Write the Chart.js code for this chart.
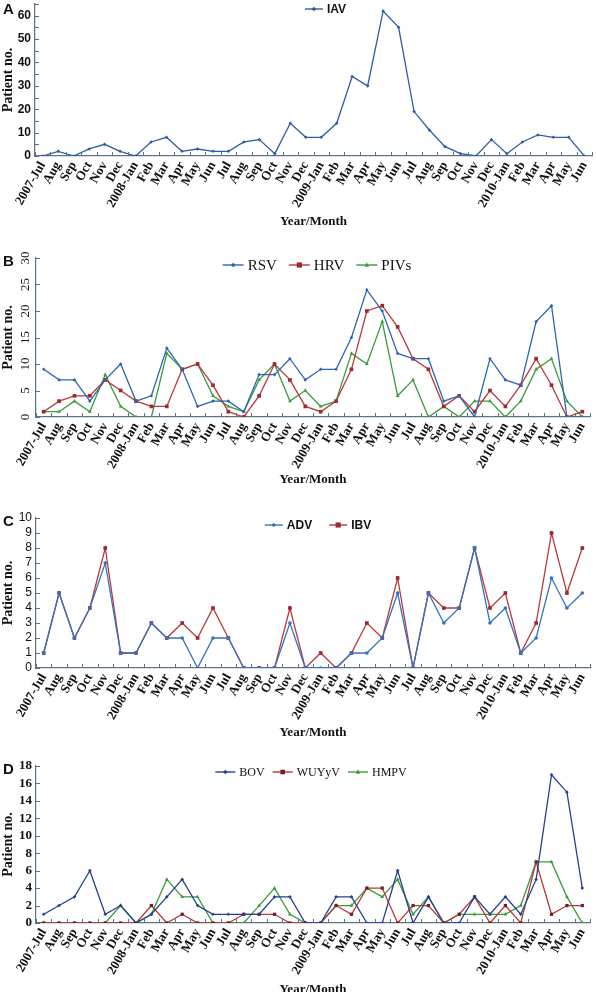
<!DOCTYPE html>
<html>
<head>
<meta charset="utf-8">
<script src="https://cdn.jsdelivr.net/npm/chart.js@4.4.1/dist/chart.umd.min.js"></script>
<style>
body { margin: 0; background: #fff; width: 596px; height: 992px; overflow: hidden; position: relative; }
canvas { position: absolute; left: 0; }
.tag { position: absolute; left: 3px; font: bold 15px "Liberation Sans", Arial, sans-serif; color: #111; }
</style>
</head>
<body>
<canvas id="chartA" width="596" height="231" style="top:0"></canvas>
<canvas id="chartB" width="596" height="239" style="top:250px"></canvas>
<canvas id="chartC" width="596" height="232" style="top:510px"></canvas>
<canvas id="chartD" width="596" height="241" style="top:758px"></canvas>
<div class="tag" style="top:0">A</div>
<div class="tag" style="top:252px">B</div>
<div class="tag" style="top:512px">C</div>
<div class="tag" style="top:760px">D</div>
<script>
const months = ['2007-Jul','Aug','Sep','Oct','Nov','Dec','2008-Jan','Feb','Mar','Apr','May','Jun',
    'Jul','Aug','Sep','Oct','Nov','Dec','2009-Jan','Feb','Mar','Apr','May','Jun',
    'Jul','Aug','Sep','Oct','Nov','Dec','2010-Jan','Feb','Mar','Apr','May','Jun'];

// A
const iav = [0,2,0,3,5,2,0,6,8,2,3,2,2,6,7,1,14,8,8,14,34,30,62,55,19,11,4,1,0,7,1,6,9,8,8,0];

// B
const rsv  = [9,7,7,3,7,10,3,4,13,9,2,3,3,1,8,8,11,7,9,9,15,24,20,12,11,11,3,4,0,11,7,6,18,21,0,0];
const hrv  = [1,3,4,4,7,5,3,2,2,9,10,6,1,0,4,10,7,2,1,3,9,20,21,17,11,9,2,4,1,5,2,6,11,6,0,1];
const pivs = [1,1,3,1,8,2,0,0,12,9,10,4,2,1,7,10,3,5,2,3,12,10,18,4,7,0,2,0,3,3,0,3,9,11,3,0];

// C
const adv = [1,5,2,4,7,1,1,3,2,2,0,2,2,0,0,0,3,0,0,0,1,1,2,5,0,5,3,4,8,3,4,1,2,6,4,5];
const ibv = [1,5,2,4,8,1,1,3,2,3,2,4,2,0,0,0,4,0,1,0,1,3,2,6,0,5,4,4,8,4,5,1,3,9,5,8];

// D
const bov  = [1,2,3,6,1,2,0,1,3,5,2,1,1,1,1,3,3,0,0,3,3,0,0,6,0,3,0,0,3,1,3,1,5,17,15,4];
const wuyv = [0,0,0,0,0,0,0,2,0,1,0,0,0,1,1,1,0,0,0,2,1,4,4,0,2,2,0,1,3,0,2,0,7,1,2,2];
const hmpv = [0,0,0,0,0,2,0,1,5,3,3,0,0,0,2,4,1,0,0,2,2,4,3,5,1,3,0,1,1,1,1,2,7,7,3,0];

const AXIS = '#5d7282';
const BLUE = '#2d66b0';
const NAVY = '#25408e';
const RED = '#b8393c';
const DARKRED = '#6b2326';
const GREEN = '#3b9b3b';
const SERIF = '"Liberation Serif", "Times New Roman", serif';
const SANS = '"Liberation Sans", Arial, sans-serif';

function marker(ctx, style, x, y, r, color) {
    ctx.fillStyle = color;
    ctx.beginPath();
    if (style === 'rect') {
        ctx.rect(x - r, y - r, r * 2, r * 2);
    } else if (style === 'triangle') {
        ctx.moveTo(x, y - r * 1.2);
        ctx.lineTo(x + r, y + r * 0.8);
        ctx.lineTo(x - r, y + r * 0.8);
    } else if (style === 'rectRot') {
        ctx.moveTo(x, y - r * 1.3);
        ctx.lineTo(x + r * 1.3, y);
        ctx.lineTo(x, y + r * 1.3);
        ctx.lineTo(x - r * 1.3, y);
    } else {
        ctx.arc(x, y, r, 0, Math.PI * 2);
    }
    ctx.closePath();
    ctx.fill();
}

// small inward tick marks on both axes
const innerTicks = {
    id: 'innerTicks',
    afterDraw(chart) {
        const {ctx, chartArea: a, scales: {x, y}} = chart;
        const half = (x.getPixelForValue(1) - x.getPixelForValue(0)) / 2;
        ctx.save();
        ctx.strokeStyle = AXIS;
        ctx.lineWidth = 1;
        ctx.beginPath();
        for (let i = 0; i <= months.length; i++) {
            const px = Math.round(x.getPixelForValue(i) - half) + 0.5;
            ctx.moveTo(px, a.bottom);
            ctx.lineTo(px, a.bottom - 4);
        }
        y.ticks.forEach(t => {
            const py = Math.round(y.getPixelForValue(t.value)) + 0.5;
            ctx.moveTo(a.left, py);
            ctx.lineTo(a.left + 4, py);
        });
        ctx.stroke();
        ctx.restore();
    }
};

// legend drawn inside the top of the plot
const insideLegend = {
    id: 'insideLegend',
    afterDraw(chart, args, o) {
        const {ctx, chartArea: a} = chart;
        const sets = chart.data.datasets;
        ctx.save();
        ctx.font = o.font;
        ctx.textBaseline = 'middle';
        const widths = sets.map(d => o.icon + 4 + ctx.measureText(d.label).width);
        const total = widths.reduce((s, w) => s + w, 0) + o.gap * (sets.length - 1);
        let x = (a.left + a.right) / 2 - total / 2 + o.dx;
        const y = a.top + o.dy;
        sets.forEach((d, i) => {
            ctx.strokeStyle = d.borderColor;
            ctx.lineWidth = 1.4;
            ctx.beginPath();
            ctx.moveTo(x, y);
            ctx.lineTo(x + o.icon, y);
            ctx.stroke();
            marker(ctx, d.pointStyle, x + o.icon / 2, y, d.pointRadius, d.pointBackgroundColor);
            ctx.fillStyle = '#111';
            ctx.fillText(d.label, x + o.icon + 4, y + 1);
            x += widths[i] + o.gap;
        });
        ctx.restore();
    }
};

function series(label, data, color, style, r, mark) {
    return {
        label: label,
        data: data,
        borderColor: color,
        borderWidth: 1.3,
        pointStyle: style,
        pointRadius: r,
        pointBackgroundColor: mark || color,
        pointBorderColor: mark || color,
        pointBorderWidth: 0,
        tension: 0
    };
}

function makeChart(id, sets, opt) {
    return new Chart(document.getElementById(id), {
        type: 'line',
        data: { labels: months, datasets: sets },
        options: {
            responsive: false,
            animation: false,
            layout: { padding: { top: opt.top, right: opt.right, left: 0, bottom: 0 } },
            plugins: {
                legend: { display: false },
                tooltip: { enabled: false },
                insideLegend: { font: opt.legendFont, icon: opt.icon, gap: opt.gap, dx: opt.dx, dy: opt.dy }
            },
            scales: {
                x: {
                    offset: true,
                    grid: { drawOnChartArea: false, drawTicks: false },
                    border: { color: AXIS, width: 1.2 },
                    ticks: {
                        autoSkip: false, minRotation: 60, maxRotation: 60,
                        font: { family: SERIF, size: 13, weight: 'bold' },
                        color: '#111', padding: 3
                    },
                    title: {
                        display: true, text: 'Year/Month', color: '#111',
                        font: { family: SERIF, size: 13, weight: 'bold' },
                        padding: { top: 0, bottom: 2 }
                    },
                    afterFit(s) { s.height = opt.xh; s.paddingLeft = 0; s.paddingRight = 0; }
                },
                y: {
                    min: 0, max: opt.max,
                    grid: { drawOnChartArea: false, drawTicks: false },
                    border: { color: AXIS, width: 1.2 },
                    ticks: Object.assign({
                        stepSize: opt.step, autoSkip: false, color: '#111', padding: 4, font: opt.yFont
                    }, opt.yTicks || {}),
                    title: {
                        display: true, text: 'Patient no.', color: '#111',
                        font: { family: SERIF, size: 14, weight: 'bold' },
                        padding: { top: 0, bottom: 2 }
                    },
                    afterFit(s) { s.width = opt.yw; s.paddingTop = 0; s.paddingBottom = 0; }
                }
            }
        },
        plugins: [innerTicks, insideLegend]
    });
}

makeChart('chartA', [
    series('IAV', iav, '#2b5ea4', 'rectRot', 1.8)
], {
    top: 2, right: 1, yw: 35, xh: 75, max: 65, step: 5,
    yFont: { family: SANS, size: 12, weight: 'bold' },
    yTicks: { callback: v => (v % 10 === 0 ? v : '') },
    legendFont: 'bold 12px ' + SANS, icon: 18, gap: 14, dx: 12, dy: 5
});

makeChart('chartB', [
    series('RSV', rsv, BLUE, 'rectRot', 1.8),
    series('HRV', hrv, RED, 'rect', 2.6, '#9c2a2e'),
    series('PIVs', pivs, GREEN, 'triangle', 2.2)
], {
    top: 8, right: 6, yw: 36, xh: 72, max: 30, step: 5,
    yFont: { family: SERIF, size: 13 },
    yTicks: { minRotation: 90, maxRotation: 90, crossAlign: 'center' },
    legendFont: '15px ' + SERIF, icon: 21, gap: 12, dx: 4, dy: 7
});

makeChart('chartC', [
    series('ADV', adv, '#3473bd', 'circle', 1.8),
    series('IBV', ibv, RED, 'rect', 2.6, '#9c2a2e')
], {
    top: 8, right: 6, yw: 36, xh: 74, max: 10, step: 1,
    yFont: { family: SANS, size: 12 },
    legendFont: 'bold 12px ' + SANS, icon: 18, gap: 17, dx: 5, dy: 7
});

makeChart('chartD', [
    series('BOV', bov, NAVY, 'rectRot', 1.8),
    series('WUYyV', wuyv, RED, 'rect', 2.3, DARKRED),
    series('HMPV', hmpv, GREEN, 'triangle', 2.2)
], {
    top: 8, right: 6, yw: 36, xh: 76, max: 18, step: 2,
    yFont: { family: SERIF, size: 13, weight: 'bold' },
    legendFont: '12px ' + SERIF, icon: 20, gap: 8, dx: -2, dy: 6
});
</script>
</body>
</html>
